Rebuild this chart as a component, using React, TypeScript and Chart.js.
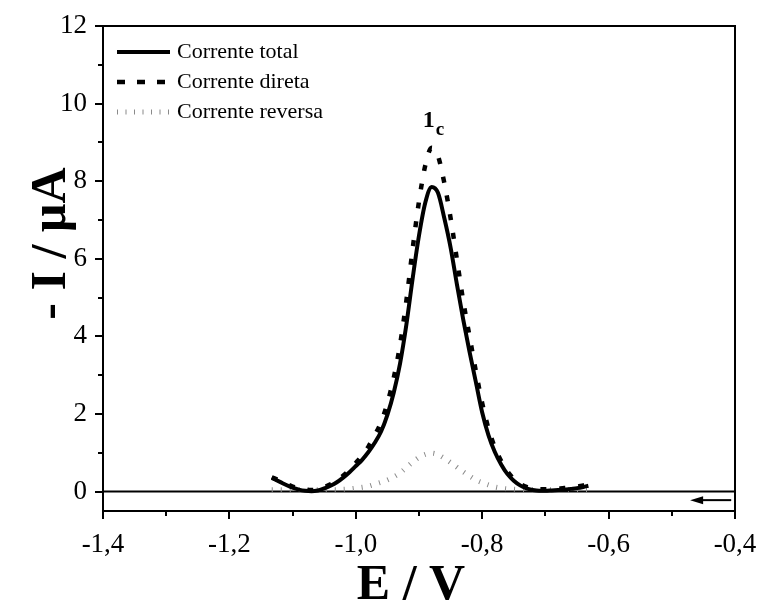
import React, { useEffect, useRef } from 'react';
import { Chart, registerables } from 'chart.js';

Chart.register(...registerables);

// ---- data ----
const potential = [
  -1.133, -1.12, -1.11, -1.1, -1.09, -1.08, -1.07, -1.06, -1.05, -1.04, -1.03, -1.02, -1.01,
  -1.0, -0.99, -0.98, -0.97, -0.96, -0.95, -0.94, -0.93, -0.92, -0.91, -0.9, -0.89, -0.88,
  -0.87, -0.86, -0.85, -0.84, -0.83, -0.82, -0.81, -0.8, -0.79, -0.78, -0.77, -0.76, -0.75,
  -0.74, -0.73, -0.72, -0.71, -0.7, -0.69, -0.68, -0.67, -0.66, -0.65, -0.64, -0.632,
];

const totalCurrent = [
  0.35, 0.25, 0.17, 0.1, 0.05, 0.02, 0.01, 0.03, 0.08, 0.15, 0.24, 0.36, 0.5,
  0.66, 0.82, 1.02, 1.26, 1.55, 1.98, 2.55, 3.3, 4.3, 5.5, 6.6, 7.45, 7.85,
  7.7, 7.05, 6.29, 5.34, 4.43, 3.6, 2.82, 2.04, 1.45, 1.02, 0.7, 0.45, 0.28,
  0.16, 0.08, 0.04, 0.02, 0.02, 0.03, 0.04, 0.05, 0.07, 0.09, 0.12, 0.15,
];

const directCurrent = [
  0.37, 0.28, 0.2, 0.13, 0.08, 0.05, 0.04, 0.06, 0.11, 0.19, 0.28, 0.41, 0.56,
  0.74, 0.93, 1.16, 1.45, 1.79, 2.28, 2.93, 3.78, 4.92, 6.26, 7.48, 8.41, 8.86,
  8.65, 7.96, 7.05, 5.98, 4.91, 4.0, 3.1, 2.28, 1.62, 1.14, 0.79, 0.52, 0.33,
  0.2, 0.12, 0.08, 0.06, 0.06, 0.07, 0.08, 0.09, 0.11, 0.13, 0.16, 0.18,
];

const reverseCurrent = [
  0.05, 0.05, 0.05, 0.05, 0.05, 0.05, 0.05, 0.05, 0.05, 0.05, 0.05, 0.06, 0.07,
  0.09, 0.11, 0.14, 0.19, 0.24, 0.3, 0.38, 0.48, 0.62, 0.76, 0.88, 0.96, 0.99,
  0.95, 0.86, 0.75, 0.63, 0.51, 0.4, 0.3, 0.23, 0.17, 0.12, 0.09, 0.07, 0.06,
  0.05, 0.05, 0.05, 0.05, 0.05, 0.05, 0.05, 0.05, 0.05, 0.05, 0.05, 0.05,
];

const seriesLabels = ['Corrente total', 'Corrente direta', 'Corrente reversa'];
const xTitle = 'E / V';
const yTitle = '- I / µA';
const xMinorTicks = [-1.3, -1.1, -0.9, -0.7, -0.5];
const yMinorTicks = [1, 3, 5, 7, 9, 11];
const peakLabel = { main: '1', sub: 'c', x: -0.894, y: 9.4 };
const scanArrow = { fromX: -0.406, toX: -0.471, y: -0.22 };

const FONT = '"Liberation Serif", "Times New Roman", Times, serif';

export default function App() {
  const ref = useRef<HTMLCanvasElement>(null);

  useEffect(() => {
    document.body.style.margin = '0';
    const canvas = ref.current;
    if (!canvas) return;

    const toPts = (ys: number[]) => potential.map((x, i) => ({ x, y: ys[i] }));

    const decor = {
      id: 'decor',
      beforeDatasetsDraw(chart: any) {
        const { ctx, chartArea: a, scales } = chart;
        const y0 = scales.y.getPixelForValue(0);
        ctx.save();
        ctx.strokeStyle = '#000';
        ctx.lineWidth = 2;
        ctx.beginPath();
        ctx.moveTo(a.left, y0);
        ctx.lineTo(a.right, y0);
        ctx.stroke();
        ctx.restore();
      },
      afterDraw(chart: any) {
        const { ctx, chartArea: a, scales } = chart;
        const xs = scales.x;
        const ys = scales.y;
        ctx.save();
        // frame
        ctx.strokeStyle = '#000';
        ctx.lineWidth = 2;
        ctx.strokeRect(a.left, a.top, a.right - a.left, a.bottom - a.top);
        // minor ticks
        ctx.beginPath();
        xMinorTicks.forEach((v) => {
          const px = Math.round(xs.getPixelForValue(v));
          ctx.moveTo(px, a.bottom);
          ctx.lineTo(px, a.bottom + 5);
        });
        yMinorTicks.forEach((v) => {
          const py = Math.round(ys.getPixelForValue(v));
          ctx.moveTo(a.left, py);
          ctx.lineTo(a.left - 5, py);
        });
        ctx.stroke();

        // legend
        const sx0 = a.left + 14;
        const sx1 = a.left + 67;
        const rows = [a.top + 26, a.top + 56, a.top + 86];
        ctx.lineCap = 'butt';
        ctx.lineWidth = 4;
        ctx.setLineDash([]);
        ctx.beginPath();
        ctx.moveTo(sx0, rows[0]);
        ctx.lineTo(sx1, rows[0]);
        ctx.stroke();
        ctx.lineWidth = 4.5;
        ctx.setLineDash([8, 12]);
        ctx.beginPath();
        ctx.moveTo(sx0, rows[1]);
        ctx.lineTo(sx1, rows[1]);
        ctx.stroke();
        ctx.strokeStyle = '#8a8a8a';
        ctx.lineWidth = 5;
        ctx.setLineDash([1, 7.5]);
        ctx.beginPath();
        ctx.moveTo(sx0, rows[2]);
        ctx.lineTo(sx1, rows[2]);
        ctx.stroke();
        ctx.setLineDash([]);
        ctx.fillStyle = '#000';
        ctx.font = `22px ${FONT}`;
        ctx.textBaseline = 'middle';
        ctx.textAlign = 'left';
        seriesLabels.forEach((t, i) => ctx.fillText(t, a.left + 74, rows[i]));

        // peak label
        const pxL = xs.getPixelForValue(peakLabel.x);
        const pyL = ys.getPixelForValue(peakLabel.y);
        ctx.textBaseline = 'alphabetic';
        ctx.font = `bold 24px ${FONT}`;
        ctx.fillText(peakLabel.main, pxL, pyL);
        const w1 = ctx.measureText(peakLabel.main).width;
        ctx.font = `bold 19px ${FONT}`;
        ctx.fillText(peakLabel.sub, pxL + w1 + 1, pyL + 8);

        // scan direction arrow
        const ay = ys.getPixelForValue(scanArrow.y);
        const ax0 = xs.getPixelForValue(scanArrow.fromX);
        const ax1 = xs.getPixelForValue(scanArrow.toX);
        ctx.strokeStyle = '#000';
        ctx.lineWidth = 2;
        ctx.beginPath();
        ctx.moveTo(ax0, ay);
        ctx.lineTo(ax1 + 10, ay);
        ctx.stroke();
        ctx.beginPath();
        ctx.moveTo(ax1, ay);
        ctx.lineTo(ax1 + 13, ay - 4);
        ctx.lineTo(ax1 + 13, ay + 4);
        ctx.closePath();
        ctx.fill();

        // axis titles
        ctx.font = `bold 50px ${FONT}`;
        ctx.textAlign = 'center';
        ctx.textBaseline = 'alphabetic';
        ctx.fillText(xTitle, (a.left + a.right) / 2 - 8, 599);
        ctx.translate(65, (a.top + a.bottom) / 2 - 25);
        ctx.rotate(-Math.PI / 2);
        ctx.fillText(yTitle, 0, 0);
        ctx.restore();
      },
    };

    const chart = new Chart(canvas, {
      type: 'line',
      data: {
        datasets: [
          {
            label: seriesLabels[0],
            data: toPts(totalCurrent),
            borderColor: '#000',
            borderWidth: 4,
            pointRadius: 0,
            cubicInterpolationMode: 'monotone',
            fill: false,
          },
          {
            label: seriesLabels[1],
            data: toPts(directCurrent),
            borderColor: '#000',
            borderWidth: 4.5,
            borderDash: [6, 13],
            borderCapStyle: 'butt',
            pointRadius: 0,
            cubicInterpolationMode: 'monotone',
            fill: false,
          },
          {
            label: seriesLabels[2],
            data: toPts(reverseCurrent),
            borderColor: '#8a8a8a',
            borderWidth: 5,
            borderDash: [1, 8],
            borderCapStyle: 'butt',
            pointRadius: 0,
            cubicInterpolationMode: 'monotone',
            fill: false,
          },
        ],
      },
      options: {
        animation: false,
        responsive: false,
        devicePixelRatio: 1,
        layout: { padding: { top: 26, right: 25, left: 0, bottom: 0 } },
        plugins: { legend: { display: false }, tooltip: { enabled: false }, title: { display: false } },
        scales: {
          x: {
            type: 'linear',
            min: -1.4,
            max: -0.4,
            afterFit: (s: any) => {
              s.height = 92;
              s.paddingLeft = 0;
              s.paddingRight = 0;
            },
            ticks: {
              stepSize: 0.2,
              color: '#000',
              font: { family: FONT, size: 27 },
              padding: 10,
              maxRotation: 0,
              callback: (v: any) => Number(v).toFixed(1).replace('.', ','),
            },
            grid: { drawOnChartArea: false, drawTicks: true, tickLength: 8, color: '#000', lineWidth: 2 },
            border: { display: true, color: '#000', width: 2 },
          },
          y: {
            type: 'linear',
            min: -0.5,
            max: 12,
            afterFit: (s: any) => {
              s.width = 103;
              s.paddingTop = 0;
              s.paddingBottom = 0;
            },
            ticks: {
              stepSize: 2,
              includeBounds: false,
              color: '#000',
              font: { family: FONT, size: 27 },
              padding: 8,
              callback: (v: any) => String(v),
            },
            grid: { drawOnChartArea: false, drawTicks: true, tickLength: 8, color: '#000', lineWidth: 2 },
            border: { display: true, color: '#000', width: 2 },
          },
        },
      },
      plugins: [decor],
    } as any);

    return () => chart.destroy();
  }, []);

  return (
    <div style={{ width: 760, height: 603, background: '#fff' }}>
      <canvas ref={ref} width={760} height={603} style={{ display: 'block', width: 760, height: 603 }} />
    </div>
  );
}
